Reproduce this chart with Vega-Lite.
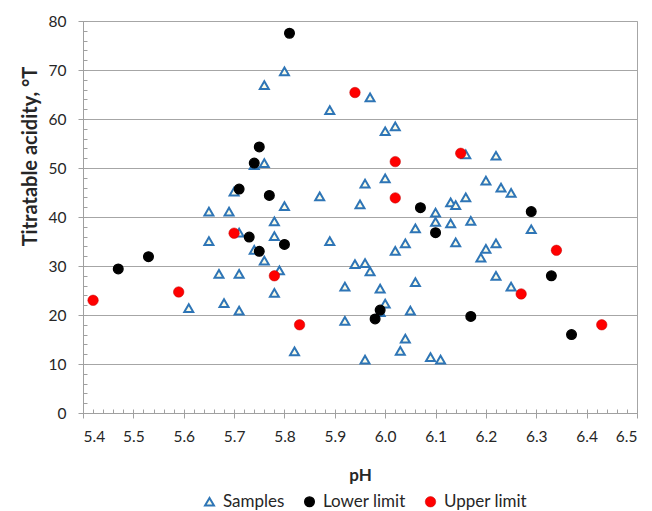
{
  "$schema": "https://vega.github.io/schema/vega-lite/v6.json",
  "width": 554,
  "height": 392,
  "autosize": {"type": "none"},
  "padding": {"left": 83, "top": 21, "right": 15, "bottom": 98},
  "background": "white",
  "config": {"view": {"stroke": "#a6a6a6", "strokeWidth": 1}, "font": "Lato"},
  "data": {"values": [
    {"pH": 5.61, "acidity": 21.4, "series": "Samples"},
    {"pH": 5.65, "acidity": 41.1, "series": "Samples"},
    {"pH": 5.65, "acidity": 35.1, "series": "Samples"},
    {"pH": 5.67, "acidity": 28.4, "series": "Samples"},
    {"pH": 5.68, "acidity": 22.4, "series": "Samples"},
    {"pH": 5.69, "acidity": 41.1, "series": "Samples"},
    {"pH": 5.70, "acidity": 45.2, "series": "Samples"},
    {"pH": 5.71, "acidity": 36.8, "series": "Samples"},
    {"pH": 5.71, "acidity": 28.4, "series": "Samples"},
    {"pH": 5.71, "acidity": 20.9, "series": "Samples"},
    {"pH": 5.74, "acidity": 33.3, "series": "Samples"},
    {"pH": 5.74, "acidity": 50.6, "series": "Samples"},
    {"pH": 5.76, "acidity": 51.0, "series": "Samples"},
    {"pH": 5.76, "acidity": 66.9, "series": "Samples"},
    {"pH": 5.76, "acidity": 31.1, "series": "Samples"},
    {"pH": 5.78, "acidity": 39.1, "series": "Samples"},
    {"pH": 5.78, "acidity": 36.1, "series": "Samples"},
    {"pH": 5.78, "acidity": 24.5, "series": "Samples"},
    {"pH": 5.79, "acidity": 29.1, "series": "Samples"},
    {"pH": 5.80, "acidity": 69.7, "series": "Samples"},
    {"pH": 5.80, "acidity": 42.2, "series": "Samples"},
    {"pH": 5.82, "acidity": 12.6, "series": "Samples"},
    {"pH": 5.87, "acidity": 44.2, "series": "Samples"},
    {"pH": 5.89, "acidity": 61.8, "series": "Samples"},
    {"pH": 5.89, "acidity": 35.1, "series": "Samples"},
    {"pH": 5.92, "acidity": 25.8, "series": "Samples"},
    {"pH": 5.92, "acidity": 18.8, "series": "Samples"},
    {"pH": 5.94, "acidity": 30.4, "series": "Samples"},
    {"pH": 5.95, "acidity": 42.6, "series": "Samples"},
    {"pH": 5.96, "acidity": 30.6, "series": "Samples"},
    {"pH": 5.96, "acidity": 46.8, "series": "Samples"},
    {"pH": 5.96, "acidity": 10.9, "series": "Samples"},
    {"pH": 5.97, "acidity": 64.4, "series": "Samples"},
    {"pH": 5.97, "acidity": 28.9, "series": "Samples"},
    {"pH": 5.99, "acidity": 25.4, "series": "Samples"},
    {"pH": 5.99, "acidity": 20.6, "series": "Samples"},
    {"pH": 6.00, "acidity": 57.5, "series": "Samples"},
    {"pH": 6.00, "acidity": 47.9, "series": "Samples"},
    {"pH": 6.00, "acidity": 22.3, "series": "Samples"},
    {"pH": 6.02, "acidity": 58.5, "series": "Samples"},
    {"pH": 6.02, "acidity": 33.1, "series": "Samples"},
    {"pH": 6.03, "acidity": 12.7, "series": "Samples"},
    {"pH": 6.04, "acidity": 34.6, "series": "Samples"},
    {"pH": 6.04, "acidity": 15.2, "series": "Samples"},
    {"pH": 6.05, "acidity": 20.9, "series": "Samples"},
    {"pH": 6.06, "acidity": 37.7, "series": "Samples"},
    {"pH": 6.06, "acidity": 26.7, "series": "Samples"},
    {"pH": 6.09, "acidity": 11.4, "series": "Samples"},
    {"pH": 6.10, "acidity": 40.9, "series": "Samples"},
    {"pH": 6.10, "acidity": 39.0, "series": "Samples"},
    {"pH": 6.11, "acidity": 10.9, "series": "Samples"},
    {"pH": 6.13, "acidity": 43.0, "series": "Samples"},
    {"pH": 6.13, "acidity": 38.7, "series": "Samples"},
    {"pH": 6.14, "acidity": 42.4, "series": "Samples"},
    {"pH": 6.14, "acidity": 34.8, "series": "Samples"},
    {"pH": 6.16, "acidity": 44.0, "series": "Samples"},
    {"pH": 6.16, "acidity": 52.8, "series": "Samples"},
    {"pH": 6.17, "acidity": 39.2, "series": "Samples"},
    {"pH": 6.19, "acidity": 31.7, "series": "Samples"},
    {"pH": 6.20, "acidity": 47.4, "series": "Samples"},
    {"pH": 6.20, "acidity": 33.5, "series": "Samples"},
    {"pH": 6.22, "acidity": 52.5, "series": "Samples"},
    {"pH": 6.22, "acidity": 34.6, "series": "Samples"},
    {"pH": 6.22, "acidity": 28.0, "series": "Samples"},
    {"pH": 6.23, "acidity": 46.0, "series": "Samples"},
    {"pH": 6.25, "acidity": 44.9, "series": "Samples"},
    {"pH": 6.25, "acidity": 25.8, "series": "Samples"},
    {"pH": 6.29, "acidity": 37.5, "series": "Samples"},
    {"pH": 5.47, "acidity": 29.4, "series": "Lower limit"},
    {"pH": 5.53, "acidity": 31.9, "series": "Lower limit"},
    {"pH": 5.71, "acidity": 45.7, "series": "Lower limit"},
    {"pH": 5.73, "acidity": 35.9, "series": "Lower limit"},
    {"pH": 5.74, "acidity": 51.0, "series": "Lower limit"},
    {"pH": 5.75, "acidity": 54.3, "series": "Lower limit"},
    {"pH": 5.75, "acidity": 33.0, "series": "Lower limit"},
    {"pH": 5.77, "acidity": 44.4, "series": "Lower limit"},
    {"pH": 5.80, "acidity": 34.4, "series": "Lower limit"},
    {"pH": 5.81, "acidity": 77.5, "series": "Lower limit"},
    {"pH": 5.98, "acidity": 19.2, "series": "Lower limit"},
    {"pH": 5.99, "acidity": 21.0, "series": "Lower limit"},
    {"pH": 6.07, "acidity": 41.9, "series": "Lower limit"},
    {"pH": 6.10, "acidity": 36.8, "series": "Lower limit"},
    {"pH": 6.17, "acidity": 19.7, "series": "Lower limit"},
    {"pH": 6.29, "acidity": 41.1, "series": "Lower limit"},
    {"pH": 6.33, "acidity": 28.0, "series": "Lower limit"},
    {"pH": 6.37, "acidity": 16.0, "series": "Lower limit"},
    {"pH": 5.42, "acidity": 23.0, "series": "Upper limit"},
    {"pH": 5.59, "acidity": 24.7, "series": "Upper limit"},
    {"pH": 5.70, "acidity": 36.7, "series": "Upper limit"},
    {"pH": 5.78, "acidity": 28.0, "series": "Upper limit"},
    {"pH": 5.83, "acidity": 18.0, "series": "Upper limit"},
    {"pH": 5.94, "acidity": 65.4, "series": "Upper limit"},
    {"pH": 6.02, "acidity": 51.3, "series": "Upper limit"},
    {"pH": 6.02, "acidity": 43.9, "series": "Upper limit"},
    {"pH": 6.15, "acidity": 53.0, "series": "Upper limit"},
    {"pH": 6.27, "acidity": 24.3, "series": "Upper limit"},
    {"pH": 6.34, "acidity": 33.2, "series": "Upper limit"},
    {"pH": 6.43, "acidity": 18.0, "series": "Upper limit"}
  ]},
  "layer": [
    {
      "mark": {"type": "point", "filled": true, "opacity": 1},
      "encoding": {
        "x": {
          "field": "pH", "type": "quantitative",
          "scale": {"domain": [5.4, 6.5], "nice": false, "zero": false},
          "axis": {
            "orient": "bottom",
            "values": [5.4, 5.5, 5.6, 5.7, 5.8, 5.9, 6.0, 6.1, 6.2, 6.3, 6.4, 6.5],
            "format": ".1f", "title": "pH", "grid": false,
            "domainColor": "#a0a0a0", "tickColor": "#a0a0a0", "tickSize": 5,
            "labelFontSize": 15.5, "labelColor": "#262626", "labelPadding": 11,
            "titleFontSize": 17, "titleFontWeight": "bold", "titleColor": "#262626",
            "titleY": 62, "titleBaseline": "middle"
          }
        },
        "y": {
          "field": "acidity", "type": "quantitative",
          "scale": {"domain": [0, 80], "nice": false},
          "axis": {
            "orient": "left",
            "values": [0, 10, 20, 30, 40, 50, 60, 70, 80],
            "title": "Titratable acidity, °T", "grid": true,
            "gridColor": "#a6a6a6", "gridWidth": 1,
            "domainColor": "#a0a0a0", "tickColor": "#a0a0a0", "tickSize": 5,
            "labelFontSize": 15.5, "labelColor": "#262626", "labelPadding": 12,
            "titleFontSize": 20, "titleFontWeight": "bold", "titleColor": "#262626",
            "titleX": -53, "titleY": 135, "titleBaseline": "middle", "titleAlign": "center"
          }
        },
        "shape": {
          "field": "series", "type": "nominal",
          "scale": {"domain": ["Samples", "Lower limit", "Upper limit"], "range": ["triangle-up", "circle", "circle"]},
          "legend": {
            "title": null, "orient": "none", "direction": "horizontal",
            "legendX": 118, "legendY": 472,
            "labelFontSize": 17, "labelColor": "#262626", "labelOffset": 5,
            "columnPadding": 16
          }
        },
        "fill": {
          "field": "series", "type": "nominal",
          "scale": {"domain": ["Samples", "Lower limit", "Upper limit"], "range": ["#fbfbe8", "#000000", "#ff0000"]}
        },
        "stroke": {
          "field": "series", "type": "nominal",
          "scale": {"domain": ["Samples", "Lower limit", "Upper limit"], "range": ["#2e75b6", "#000000", "#c00000"]}
        },
        "size": {
          "field": "series", "type": "nominal",
          "scale": {"domain": ["Samples", "Lower limit", "Upper limit"], "range": [80, 110, 150]}
        },
        "strokeWidth": {
          "field": "series", "type": "nominal",
          "scale": {"domain": ["Samples", "Lower limit", "Upper limit"], "range": [2, 0.5, 1]}
        }
      }
    },
    {
      "mark": {"type": "point", "opacity": 0},
      "encoding": {
        "x": {
          "field": "pH", "type": "quantitative",
          "scale": {"domain": [5.4, 6.5], "nice": false, "zero": false},
          "axis": {
            "orient": "bottom", "title": null, "labels": false, "domain": false, "grid": false,
            "tickColor": "#a0a0a0", "tickSize": -4,
            "values": [5.4, 5.42, 5.44, 5.46, 5.48, 5.5, 5.52, 5.54, 5.56, 5.58, 5.6, 5.62, 5.64, 5.66, 5.68, 5.7, 5.72, 5.74, 5.76, 5.78, 5.8, 5.82, 5.84, 5.86, 5.88, 5.9, 5.92, 5.94, 5.96, 5.98, 6.0, 6.02, 6.04, 6.06, 6.08, 6.1, 6.12, 6.14, 6.16, 6.18, 6.2, 6.22, 6.24, 6.26, 6.28, 6.3, 6.32, 6.34, 6.36, 6.38, 6.4, 6.42, 6.44, 6.46, 6.48, 6.5]
          }
        },
        "y": {
          "field": "acidity", "type": "quantitative",
          "scale": {"domain": [0, 80], "nice": false},
          "axis": {
            "orient": "left", "title": null, "labels": false, "domain": false, "grid": false,
            "tickColor": "#a0a0a0", "tickSize": -4,
            "values": [0, 2, 4, 6, 8, 10, 12, 14, 16, 18, 20, 22, 24, 26, 28, 30, 32, 34, 36, 38, 40, 42, 44, 46, 48, 50, 52, 54, 56, 58, 60, 62, 64, 66, 68, 70, 72, 74, 76, 78, 80]
          }
        }
      }
    }
  ],
  "resolve": {"axis": {"x": "independent", "y": "independent"}}
}
